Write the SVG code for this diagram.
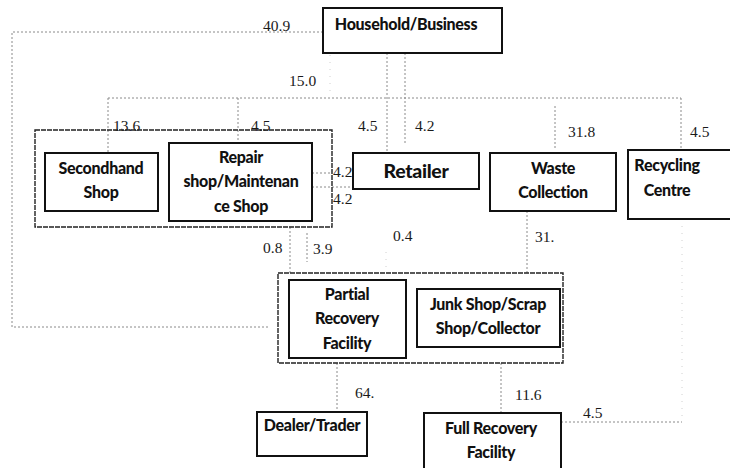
<svg xmlns="http://www.w3.org/2000/svg" width="730" height="468" viewBox="0 0 730 468">
<style>
.box{fill:#fff;stroke:#111;stroke-width:2}
.grp{fill:none;stroke:#222;stroke-width:1.4;stroke-dasharray:5 1}
.lbl{font-family:Lato,"Liberation Sans",Arial,sans-serif;font-weight:900;font-size:16px;fill:#111;text-anchor:middle;letter-spacing:-0.3px}
.num{font-family:"Liberation Serif","Times New Roman",serif;font-size:15.5px;fill:#1a1a1a}
.con{fill:none;stroke:#8a8a8a;stroke-width:1;stroke-dasharray:2 2}
.faint{fill:none;stroke:#d0d0d0;stroke-width:1;stroke-dasharray:1 6}
</style>
<rect width="730" height="468" fill="#fff"/>
<g id="connectors">
<polyline class="con" points="323,32 12,32 12,327 268,327"/>
<line class="faint" x1="330" y1="55" x2="330" y2="97"/>
<line class="con" x1="387" y1="53" x2="387" y2="153"/>
<line class="con" x1="405" y1="53" x2="405" y2="145"/>
<line class="con" x1="108" y1="98" x2="681" y2="98"/>
<line class="con" x1="108" y1="98" x2="108" y2="153"/>
<line class="con" x1="238" y1="98" x2="238" y2="143"/>
<line class="con" x1="555" y1="106" x2="555" y2="150"/>
<line class="con" x1="681" y1="98" x2="681" y2="150"/>
<line class="con" x1="312" y1="173" x2="332" y2="173"/>
<line class="con" x1="312" y1="187" x2="353" y2="187"/>
<line class="con" x1="290" y1="227" x2="290" y2="273"/>
<line class="con" x1="307" y1="233" x2="307" y2="262"/>
<line class="faint" x1="386" y1="252" x2="386" y2="273"/>
<line class="con" x1="527" y1="211" x2="527" y2="273"/>
<line class="con" x1="337" y1="363" x2="337" y2="412"/>
<line class="con" x1="501" y1="363" x2="501" y2="413"/>
<line class="con" x1="561" y1="422" x2="682" y2="422"/>
<line class="faint" x1="682" y1="219" x2="682" y2="422"/>
</g>
<g id="labels">
<text class="num" x="263" y="31">40.9</text>
<text class="num" x="289" y="86">15.0</text>
<text class="num" x="113" y="131">13.6</text>
<text class="num" x="251" y="131">4.5</text>
<text class="num" x="358" y="131">4.5</text>
<text class="num" x="415" y="131">4.2</text>
<text class="num" x="568" y="137">31.8</text>
<text class="num" x="690" y="137">4.5</text>
<text class="num" x="333" y="177">4.2</text>
<text class="num" x="333" y="204">4.2</text>
<text class="num" x="263" y="253">0.8</text>
<text class="num" x="313" y="254">3.9</text>
<text class="num" x="393" y="241">0.4</text>
<text class="num" x="535" y="242">31.</text>
<text class="num" x="355" y="398">64.</text>
<text class="num" x="515" y="400">11.6</text>
<text class="num" x="583" y="418">4.5</text>
</g>
<g id="group-reuse"><rect class="grp" x="35" y="130" width="297" height="97"/></g>
<g id="group-recovery"><rect class="grp" x="278" y="273" width="285" height="90"/></g>
<g id="household">
<rect class="box" x="323" y="8" width="179" height="45"/>
<text class="lbl" x="406" y="30">Household/Business</text>
</g>
<g id="secondhand">
<rect class="box" x="45" y="153" width="113" height="58"/>
<text class="lbl" x="101" y="174">Secondhand</text>
<text class="lbl" x="101" y="198">Shop</text>
</g>
<g id="repair">
<rect class="box" x="169" y="143" width="143" height="78"/>
<text class="lbl" x="241" y="163">Repair</text>
<text class="lbl" x="241" y="187">shop/Maintenan</text>
<text class="lbl" x="241" y="212">ce Shop</text>
</g>
<g id="retailer">
<rect class="box" x="353" y="153" width="126" height="36"/>
<text class="lbl" x="416" y="178" style="font-size:19.5px">Retailer</text>
</g>
<g id="waste">
<rect class="box" x="490" y="153" width="126" height="58"/>
<text class="lbl" x="553" y="174">Waste</text>
<text class="lbl" x="553" y="198">Collection</text>
</g>
<g id="recycling">
<rect class="box" x="628" y="150" width="110" height="69"/>
<text class="lbl" x="667" y="171">Recycling</text>
<text class="lbl" x="667" y="196">Centre</text>
</g>
<g id="partial">
<rect class="box" x="289" y="280" width="117" height="78"/>
<text class="lbl" x="347" y="300">Partial</text>
<text class="lbl" x="347" y="324">Recovery</text>
<text class="lbl" x="347" y="349">Facility</text>
</g>
<g id="junk">
<rect class="box" x="417" y="289" width="143" height="58"/>
<text class="lbl" x="488" y="310">Junk Shop/Scrap</text>
<text class="lbl" x="488" y="334">Shop/Collector</text>
</g>
<g id="dealer">
<rect class="box" x="257" y="412" width="110" height="44"/>
<text class="lbl" x="312" y="431">Dealer/Trader</text>
</g>
<g id="fullrecovery">
<rect class="box" x="424" y="413" width="137" height="60"/>
<text class="lbl" x="491" y="434">Full Recovery</text>
<text class="lbl" x="491" y="458">Facility</text>
</g>
</svg>
